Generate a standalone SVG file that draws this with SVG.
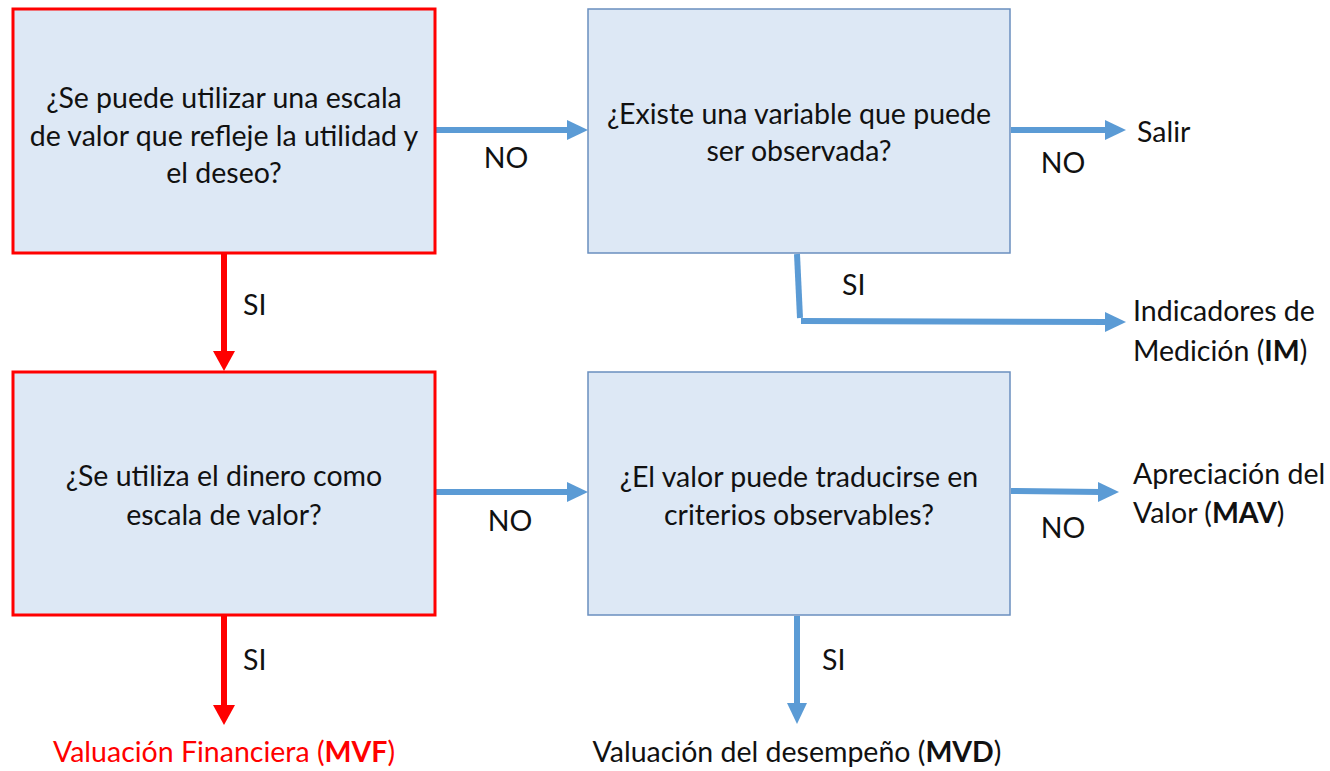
<svg xmlns="http://www.w3.org/2000/svg" width="1330" height="771" viewBox="0 0 1330 771">
<style>
text{font-family:Lato,"Liberation Sans",sans-serif;font-size:28.5px;fill:#111}
.c{text-anchor:middle}
.red{fill:#ff0000}
.b{font-weight:bold}
.rbox{fill:#dde8f5;stroke:#ff0000;stroke-width:3}
.bbox{fill:#dde8f5;stroke:#6a8fbf;stroke-width:1.5}
.bl{stroke:#5b9bd5;stroke-width:6;fill:none}
.rl{stroke:#ff0000;stroke-width:6;fill:none}
.bh{fill:#5b9bd5}
.rh{fill:#ff0000}
</style>
<rect width="1330" height="771" fill="#ffffff"/>
<g id="connectors">
<line class="bl" x1="436" y1="130" x2="570" y2="130"/>
<polygon class="bh" points="567,120 588,130 567,140"/>
<line class="rl" x1="224" y1="254" x2="224" y2="354"/>
<polygon class="rh" points="213,351 235,351 224,371"/>
<line class="bl" x1="1011" y1="130" x2="1108" y2="130"/>
<polygon class="bh" points="1105,120 1126,130 1105,140"/>
<polyline class="bl" points="797,254 800,318"/>
<line class="bl" x1="801" y1="321" x2="1108" y2="322"/>
<polygon class="bh" points="1105,312 1126,322 1105,332"/>
<line class="bl" x1="436" y1="492" x2="570" y2="492"/>
<polygon class="bh" points="567,482 588,492 567,502"/>
<line class="bl" x1="1011" y1="491" x2="1101" y2="492"/>
<polygon class="bh" points="1098,482 1119,492 1098,502"/>
<line class="rl" x1="224" y1="616" x2="224" y2="708"/>
<polygon class="rh" points="213,705 235,705 224,725"/>
<line class="bl" x1="797" y1="616" x2="797" y2="706"/>
<polygon class="bh" points="787,703 807,703 797,724"/>
<text class="c" x="506" y="168">NO</text>
<text class="c" x="1063" y="173">NO</text>
<text class="c" x="510" y="531">NO</text>
<text class="c" x="1063" y="538">NO</text>
<text x="243" y="315">SI</text>
<text x="842" y="295">SI</text>
<text x="243" y="670">SI</text>
<text x="822" y="670">SI</text>
</g>
<g id="q1">
<rect class="rbox" x="13" y="9" width="422" height="244"/>
<text class="c" x="224" y="108">¿Se puede utilizar una escala</text>
<text class="c" x="224" y="146">de valor que refleje la utilidad y</text>
<text class="c" x="224" y="183">el deseo?</text>
</g>
<g id="q2">
<rect class="bbox" x="588" y="9" width="422" height="244"/>
<text class="c" x="799" y="124">¿Existe una variable que puede</text>
<text class="c" x="799" y="161">ser observada?</text>
</g>
<g id="q3">
<rect class="rbox" x="13" y="372" width="422" height="243"/>
<text class="c" x="224" y="486">¿Se utiliza el dinero como</text>
<text class="c" x="224" y="525">escala de valor?</text>
</g>
<g id="q4">
<rect class="bbox" x="588" y="372" width="422" height="243"/>
<text class="c" x="799" y="487">¿El valor puede traducirse en</text>
<text class="c" x="799" y="525">criterios observables?</text>
</g>
<g id="salir">
<text x="1137" y="142">Salir</text>
</g>
<g id="im">
<text x="1133" y="321">Indicadores de</text>
<text x="1133" y="361">Medición (<tspan class="b">IM</tspan>)</text>
</g>
<g id="mav">
<text x="1133" y="484">Apreciación del</text>
<text x="1133" y="523">Valor (<tspan class="b">MAV</tspan>)</text>
</g>
<g id="mvf">
<text class="c red" x="224" y="762">Valuación Financiera (<tspan class="b">MVF</tspan>)</text>
</g>
<g id="mvd">
<text class="c" x="797" y="762">Valuación del desempeño (<tspan class="b">MVD</tspan>)</text>
</g>
</svg>
